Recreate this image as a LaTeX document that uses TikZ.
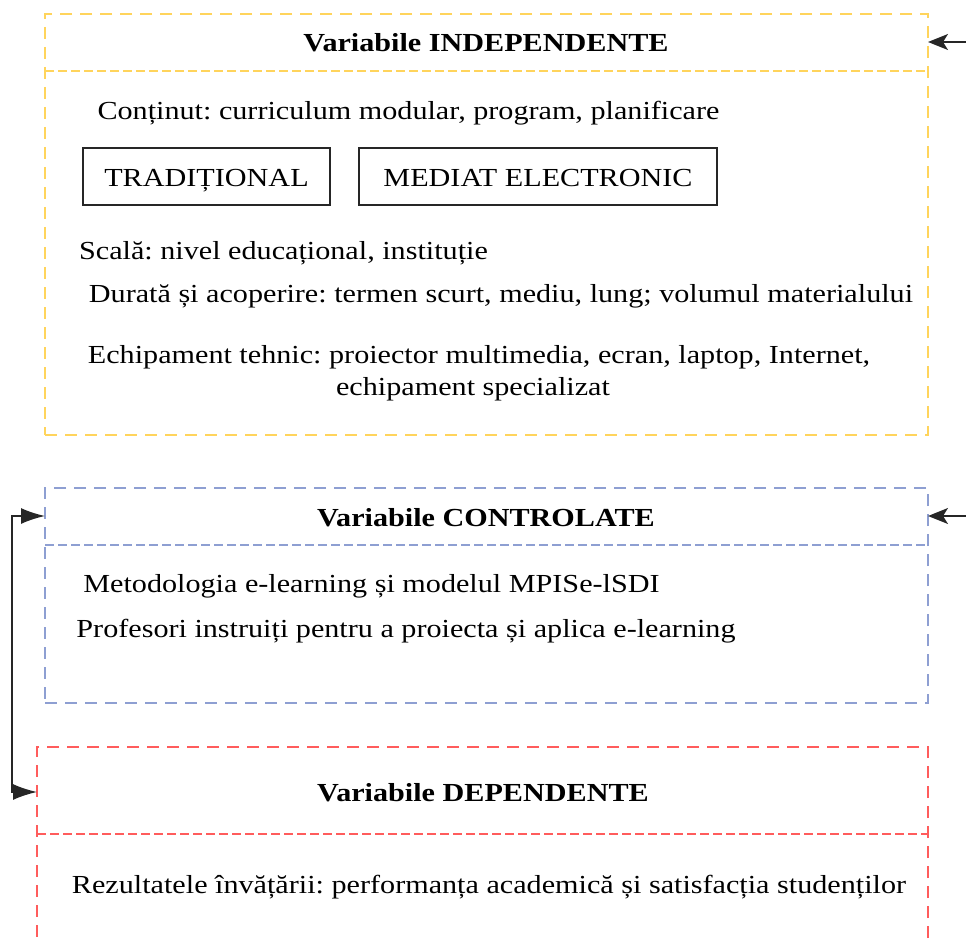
\documentclass[tikz,border=0pt]{standalone}
\usepackage{fontspec}
\setmainfont{Liberation Serif}[FakeStretch=1.16]
\usetikzlibrary{arrows.meta}
\definecolor{cyellow}{HTML}{FFD45C}
\definecolor{cblue}{HTML}{8E9FD2}
\definecolor{cred}{HTML}{FF5C5C}
\frenchspacing
\tikzset{
  grpbox/.style={draw, rectangle, line width=1.3pt, dash pattern=on 12pt off 8pt, inner sep=0pt},
  divline/.style={line width=1.3pt, dash pattern=on 9pt off 4pt},
  titletxt/.style={font=\fontsize{26}{30}\selectfont\bfseries, inner sep=0pt, anchor=base},
  bodytxt/.style={font=\fontsize{26}{30}\selectfont, inner sep=0pt, anchor=base},
  solidbox/.style={draw=black!85, line width=1.3pt, rectangle, inner sep=0pt},
  conn/.style={draw=black!85, line width=1.6pt},
  tipR/.style={-{Stealth[length=20pt,width=16pt,inset=5pt]}},
  tipL/.style={{Latex[length=24pt,width=16pt]}-{Latex[length=24pt,width=16pt]}},
}
\begin{document}
\begin{tikzpicture}[x=1pt,y=-1pt]
\useasboundingbox (0,0) rectangle (966,944);
\clip (0,0) rectangle (966,944);
% yellow group
\node[grpbox, draw=cyellow, minimum width=883pt, minimum height=421pt] (ybox) at (486.5,224.5) {};
\draw[divline, cyellow] (45,71) -- (928,71);
\node[titletxt] (ytitle) at (486,52) {Variabile INDEPENDENTE};
\node[bodytxt] (ycont) at (408.5,120) {Conținut: curriculum modular, program, planificare};
\node[solidbox, minimum width=247pt, minimum height=57pt] (trad) at (206.5,176.5) {};
\node[bodytxt] (tradt) at (206.5,186) {TRADIȚIONAL};
\node[solidbox, minimum width=358pt, minimum height=57pt] (med) at (538,176.5) {};
\node[bodytxt] (medt) at (538,186) {MEDIAT ELECTRONIC};
\node[bodytxt] (yscala) at (283.5,259) {Scală: nivel educațional, instituție};
\node[bodytxt] (ydur) at (501,302.5) {Durată și acoperire: termen scurt, mediu, lung; volumul materialului};
\node[bodytxt] (yech1) at (479,363) {Echipament tehnic: proiector multimedia, ecran, laptop, Internet,};
\node[bodytxt] (yech2) at (473,395) {echipament specializat};
% blue group
\node[grpbox, draw=cblue, minimum width=883pt, minimum height=215pt] (bbox) at (486.5,595.5) {};
\draw[divline, cblue] (45,545) -- (928,545);
\node[titletxt] (btitle) at (486,526) {Variabile CONTROLATE};
\node[bodytxt] (bmet) at (371.5,592.5) {Metodologia e-learning și modelul MPISe-lSDI};
\node[bodytxt] (bprof) at (406,637) {Profesori instruiți pentru a proiecta și aplica e-learning};
% red group
\node[grpbox, draw=cred, minimum width=891pt, minimum height=260pt] (rbox) at (482.5,877) {};
\draw[divline, cred] (37,834) -- (928,834);
\node[titletxt] (rtitle) at (483,801.5) {Variabile DEPENDENTE};
\node[bodytxt] (rrez) at (489,893) {Rezultatele învățării: performanța academică și satisfacția studenților};
% connectors
\coordinate (inY) at (966,42);
\coordinate (inB) at (966,516);
\coordinate (lc) at (12,650);
\coordinate (yarr) at (928,42);
\coordinate (barr) at (928,516);
\coordinate (barrL) at (45,516);
\coordinate (rarrL) at (37,792);
\draw[conn, tipR] (inY) -- (yarr);
\draw[conn, tipR] (inB) -- (barr);
\draw[conn, tipL] (barrL) -| (lc) |- (rarrL);
\end{tikzpicture}
\end{document}
